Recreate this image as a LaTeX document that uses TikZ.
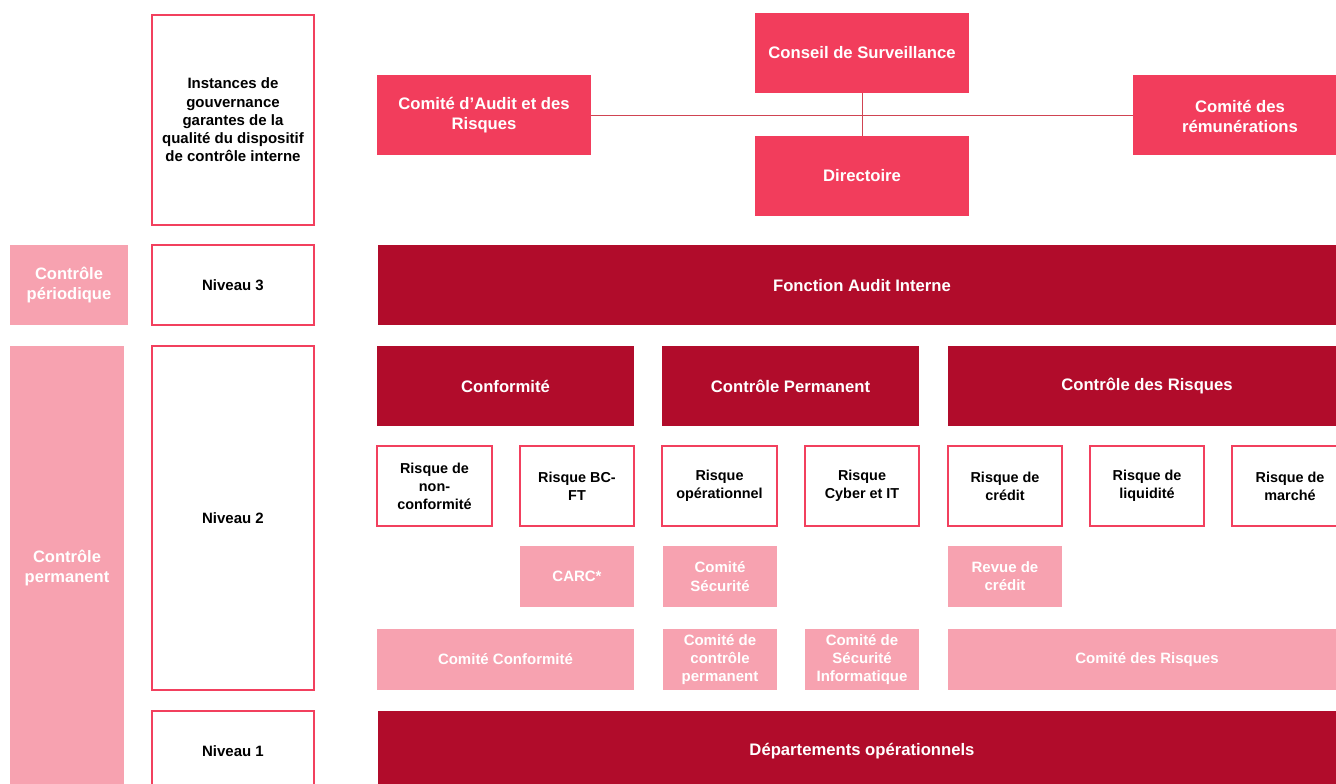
\documentclass[tikz,border=0pt]{standalone}
\usepackage{fontspec}
\setmainfont{Liberation Sans}
\definecolor{hdrpink}{HTML}{F23D5C}
\definecolor{darkred}{HTML}{B10C2B}
\definecolor{lightpink}{HTML}{F7A2B0}
\definecolor{borderpink}{HTML}{F2405E}
\definecolor{linered}{HTML}{D04452}
\tikzset{
  base/.style={inner sep=0pt, align=center, font=\fontsize{11.25}{13.7}\selectfont\bfseries},
  big/.style={font=\fontsize{12.5}{15}\selectfont\bfseries},
  hdr/.style={base, big, fill=hdrpink, text=white},
  dark/.style={base, big, fill=darkred, text=white},
  light/.style={base, fill=lightpink, text=white},
  outl/.style={base, draw=borderpink, line width=1.1pt, fill=white, text=black},
  risk/.style={outl, font=\fontsize{10.8}{13.5}\selectfont\bfseries},
  side/.style={base, fill=lightpink, text=white, font=\fontsize{12.4}{15}\selectfont\bfseries},
  link/.style={draw=linered, line width=0.7pt}
}
\newcommand\bx[7]{%
  \pgfmathsetmacro\cxx{(#2+#4)/2}\pgfmathsetmacro\cyy{(#3+#5)/2}%
  \pgfmathsetmacro\ww{(#4-#2)*0.75}\pgfmathsetmacro\hh{(#5-#3)*0.75}%
  \node[#6, minimum width=\ww pt, minimum height=\hh pt] (#1) at (\cxx,\cyy) {#7};}
\begin{document}
\begin{tikzpicture}[x=0.75pt,y=-0.75pt]
\useasboundingbox (0,0) rectangle (1336,784);
\clip (0,0) rectangle (1336,784);
% left column
\bx{cperiod}{10}{245}{128}{325}{side}{Contrôle\\périodique}
\bx{cperm}{10}{346}{124}{800}{side}{}
\node[side, fill=none] (cpermtxt) at (67,568) {Contrôle\\permanent};
% level labels
\bx{inst}{152}{15}{314}{225}{outl}{Instances de\\gouvernance\\garantes de la\\qualité du dispositif\\de contrôle interne}
\bx{niv3}{152}{245}{314}{325}{outl}{Niveau 3}
\bx{niv2}{152}{346}{314}{690}{outl}{Niveau 2}
\bx{niv1}{152}{711}{314}{800}{outl}{}
\node[base] (niv1txt) at (233,751) {Niveau 1};
% governance
\bx{conseil}{755}{13}{969}{93}{hdr}{Conseil de Surveillance}
\bx{audit}{377}{75}{591}{155}{hdr}{Comité d’Audit et des\\Risques}
\bx{direct}{755}{136}{969}{216}{hdr}{Directoire}
\bx{remun}{1133}{75}{1345}{155}{hdr}{}
\node[base, big, text=white] (remuntxt) at (1240,116) {Comité des\\rémunérations};
\draw[link] (audit.east) -- (remun.west);
\draw[link] (conseil.south) -- (direct.north);
% level 3
\bx{fai}{378}{245}{1345}{325}{dark}{}
\node[base, big, text=white] (faitxt) at (862,286) {Fonction Audit Interne};
% level 2 headers
\bx{conf}{377}{346}{634}{426}{dark}{Conformité}
\bx{cp}{662}{346}{919}{426}{dark}{Contrôle Permanent}
\bx{cr}{948}{346}{1345}{426}{dark}{}
\node[base, big, text=white] (crtxt) at (1147,386) {Contrôle des Risques};
% risk boxes
\bx{r1}{377}{446}{492}{526}{risk}{Risque de\\non-\\conformité}
\bx{r2}{520}{446}{634}{526}{risk}{Risque BC-\\FT}
\bx{r3}{662}{446}{777}{526}{risk}{Risque\\opérationnel}
\bx{r4}{805}{446}{919}{526}{risk}{Risque\\Cyber et IT}
\bx{r5}{948}{446}{1062}{526}{risk}{Risque de\\crédit}
\bx{r6}{1090}{446}{1204}{526}{risk}{Risque de\\liquidité}
\bx{r7}{1232}{446}{1350}{526}{risk}{}
\node[risk, draw=none, fill=none] (r7txt) at (1290,486) {Risque de\\marché};
% committees
\bx{carc}{520}{546}{634}{607}{light}{CARC*}
\bx{csec}{663}{546}{777}{607}{light}{Comité\\Sécurité}
\bx{revue}{948}{546}{1062}{607}{light}{Revue de\\crédit}
\bx{cconf}{377}{629}{634}{690}{light}{Comité Conformité}
\bx{ccp}{663}{629}{777}{690}{light}{Comité de\\contrôle\\permanent}
\bx{csi}{805}{629}{919}{690}{light}{Comité de\\Sécurité\\Informatique}
\bx{cdr}{948}{629}{1345}{690}{light}{}
\node[base, text=white] (cdrtxt) at (1147,660) {Comité des Risques};
% level 1
\bx{dep}{378}{711}{1345}{800}{dark}{}
\node[base, big, text=white] (deptxt) at (862,751) {Départements opérationnels};
\end{tikzpicture}
\end{document}
